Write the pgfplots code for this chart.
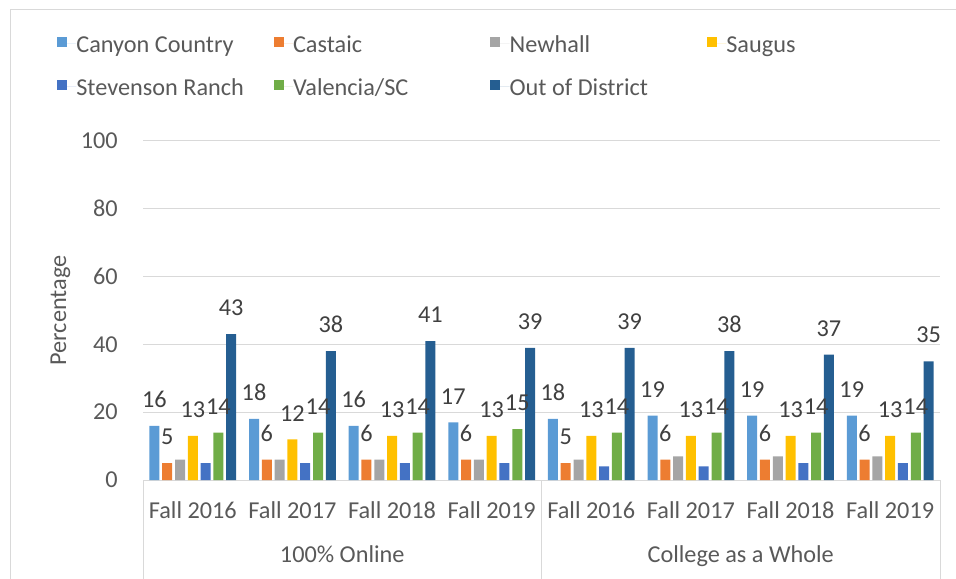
\documentclass[border=0pt]{standalone}
\usepackage{pgfplots}
\pgfplotsset{compat=1.18}
\usepackage{pgfplotstable}
\usepackage{fontspec}
\setmainfont{Carlito}
\definecolor{ccol}{HTML}{5B9BD5}
\definecolor{cast}{HTML}{ED7D31}
\definecolor{newh}{HTML}{A5A5A5}
\definecolor{saug}{HTML}{FFC000}
\definecolor{stev}{HTML}{4472C4}
\definecolor{vale}{HTML}{70AD47}
\definecolor{ood}{HTML}{255E91}
\definecolor{gridgray}{HTML}{D9D9D9}
\definecolor{textgray}{HTML}{595959}
\definecolor{labgray}{HTML}{404040}
\pgfplotstableread{
x CC Cast Newh Saug Stev Vale OOD
0 16 5 6 13 5 14 43
1 18 6 6 12 5 14 38
2 16 6 6 13 5 14 41
3 17 6 6 13 5 15 39
4 18 5 6 13 4 14 39
5 19 6 7 13 4 14 38
6 19 6 7 13 5 14 37
7 19 6 7 13 5 14 35
}\data
\begin{document}
\begin{tikzpicture}[font=\fontsize{18.2}{21.5}\selectfont]
\path[use as bounding box] (0,0) rectangle (717pt,433.5pt);
\draw[gridgray, line width=0.75pt] (7.5pt,-5pt) rectangle (730pt,426pt);
\begin{axis}[
  at={(107.25pt,73.5pt)}, anchor=south west,
  scale only axis, width=597.75pt, height=254.25pt,
  ybar=2.1pt, bar width=7.5pt,
  xmin=-0.5, xmax=7.5, ymin=0, ymax=100,
  ytick={0,20,...,100}, xtick={0,...,7},
  xticklabels={Fall 2016,Fall 2017,Fall 2018,Fall 2019,Fall 2016,Fall 2017,Fall 2018,Fall 2019},
  ymajorgrids, grid style={gridgray, line width=0.75pt},
  axis line style={draw=none}, major tick length=0pt,
  /pgf/number format/assume math mode=true,
  clip=false,
  xticklabel style={anchor=base, yshift=-28.5pt, inner sep=0pt, text=textgray},
  yticklabel style={anchor=east, xshift=-18.75pt, inner sep=0pt, text=textgray},
  ylabel={Percentage},
  ylabel style={at={(axis description cs:-0.1037,0.5)}, anchor=center, text=textgray},
  every node near coord/.append style={anchor=south, yshift=13.5pt, inner sep=0pt, text=labgray},
  legend columns=4,
  legend cell align=left,
  legend image code/.code={\fill[#1] (0pt,-2.75pt) rectangle (7.5pt,4.75pt); \path (0pt,0pt) -- (14.5pt,0pt);},
  legend style={at={(axis description cs:-0.1079,1.3203)}, anchor=north west,
    draw=none, fill=none, inner sep=0pt, outer sep=0pt, row sep=15.75pt,
    nodes={inner sep=0pt, text=textgray}},
]
\addplot[fill=ccol, draw=none, nodes near coords] table[x=x,y=CC]{\data};
\addlegendentry{\makebox[148pt][l]{\strut Canyon Country}}
\addplot[fill=cast, draw=none, nodes near coords] table[x=x,y=Cast]{\data};
\addlegendentry{\makebox[148pt][l]{\strut Castaic}}
\addplot[fill=newh, draw=none] table[x=x,y=Newh]{\data};
\addlegendentry{\makebox[148pt][l]{\strut Newhall}}
\addplot[fill=saug, draw=none, nodes near coords] table[x=x,y=Saug]{\data};
\addlegendentry{\makebox[148pt][l]{\strut Saugus}}
\addplot[fill=stev, draw=none] table[x=x,y=Stev]{\data};
\addlegendentry{\makebox[148pt][l]{\strut Stevenson Ranch}}
\addplot[fill=vale, draw=none, nodes near coords] table[x=x,y=Vale]{\data};
\addlegendentry{\makebox[148pt][l]{\strut Valencia/SC}}
\addplot[fill=ood, draw=none, nodes near coords] table[x=x,y=OOD]{\data};
\addlegendentry{\makebox[148pt][l]{\strut Out of District}}
\draw[gridgray, line width=0.75pt] (axis cs:-0.5,0) -- ++(0pt,-80pt);
\draw[gridgray, line width=0.75pt] (axis cs:3.5,0) -- ++(0pt,-80pt);
\draw[gridgray, line width=0.75pt] (axis cs:7.5,0) -- ++(0pt,-80pt);
\node[anchor=base, inner sep=0pt, text=textgray] at ([yshift=-61.5pt]axis cs:1.5,0) {100\% Online};
\node[anchor=base, inner sep=0pt, text=textgray] at ([yshift=-61.5pt]axis cs:5.5,0) {College as a Whole};
\end{axis}
\end{tikzpicture}
\end{document}
